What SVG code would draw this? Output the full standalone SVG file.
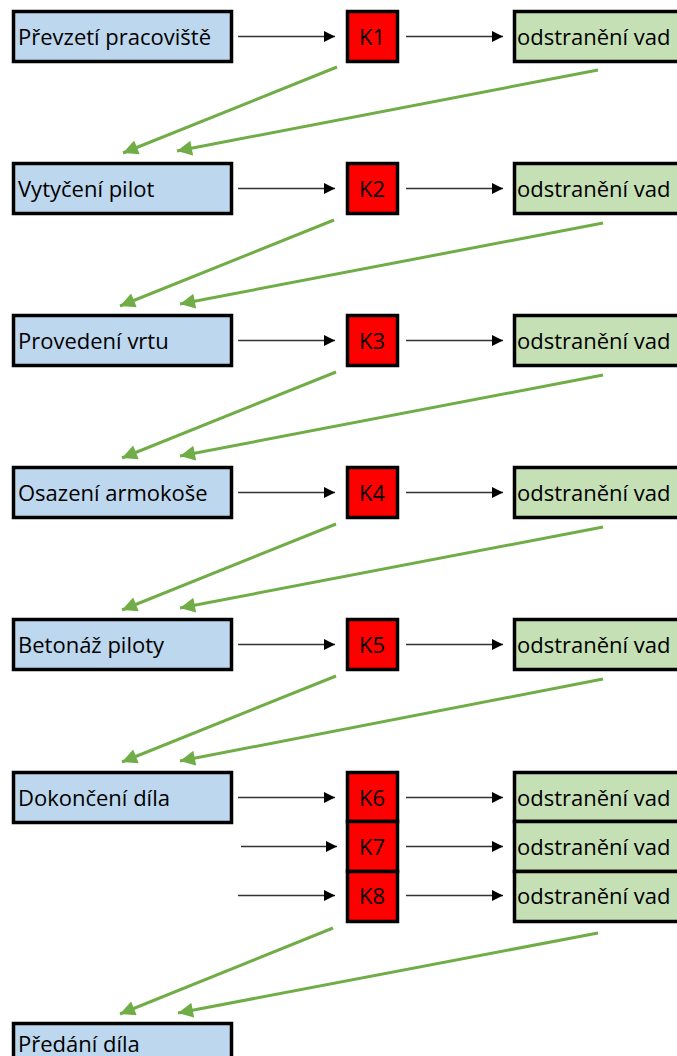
<svg xmlns="http://www.w3.org/2000/svg" width="677" height="1056" viewBox="0 0 677 1056">
<defs>
<marker id="ab" viewBox="0 0 10 10" refX="10" refY="5" markerWidth="11" markerHeight="11" markerUnits="userSpaceOnUse" orient="auto"><path d="M0,0 L10,5 L0,10 z" fill="#000"/></marker>
<marker id="ag" viewBox="0 0 10 10" refX="10" refY="5" markerWidth="16" markerHeight="15" markerUnits="userSpaceOnUse" orient="auto"><path d="M0,0 L10,5 L0,10 z" fill="#70AD47"/></marker>
<style>
.b{fill:#BDD7EE;stroke:#000;stroke-width:3.5}
.r{fill:#FF0000;stroke:#000;stroke-width:3.5}
.g{fill:#C5E0B4;stroke:#000;stroke-width:3.5}
text{font-family:"Open Sans","Liberation Sans",sans-serif;font-size:22px;fill:#000}
.c{text-anchor:middle}
.k{stroke:#333;stroke-width:1.5;fill:none;marker-end:url(#ab)}
.gr{stroke:#70AD47;stroke-width:3;fill:none;marker-end:url(#ag)}
</style>
</defs>
<g id="n1"><rect class="b" x="13.5" y="11.5" width="218" height="50"/><text x="18" y="44.5">Převzetí pracoviště</text></g>
<g id="k1"><rect class="r" x="347.5" y="11.5" width="50" height="50"/><text class="c" x="372" y="44.5">K1</text></g>
<g id="o1"><rect class="g" x="514.5" y="11.5" width="180" height="50"/><text x="517" y="44.5">odstranění vad</text></g>

<g id="n2"><rect class="b" x="13.5" y="163.5" width="218" height="50"/><text x="18" y="196.5">Vytyčení pilot</text></g>
<g id="k2"><rect class="r" x="347.5" y="163.5" width="50" height="50"/><text class="c" x="372" y="196.5">K2</text></g>
<g id="o2"><rect class="g" x="514.5" y="163.5" width="180" height="50"/><text x="517" y="196.5">odstranění vad</text></g>

<g id="n3"><rect class="b" x="13.5" y="315.5" width="218" height="50"/><text x="18" y="348.5">Provedení vrtu</text></g>
<g id="k3"><rect class="r" x="347.5" y="315.5" width="50" height="50"/><text class="c" x="372" y="348.5">K3</text></g>
<g id="o3"><rect class="g" x="514.5" y="315.5" width="180" height="50"/><text x="517" y="348.5">odstranění vad</text></g>

<g id="n4"><rect class="b" x="13.5" y="467.5" width="218" height="50"/><text x="18" y="500.5">Osazení armokoše</text></g>
<g id="k4"><rect class="r" x="347.5" y="467.5" width="50" height="50"/><text class="c" x="372" y="500.5">K4</text></g>
<g id="o4"><rect class="g" x="514.5" y="467.5" width="180" height="50"/><text x="517" y="500.5">odstranění vad</text></g>

<g id="n5"><rect class="b" x="13.5" y="619.5" width="218" height="50"/><text x="18" y="652.5">Betonáž piloty</text></g>
<g id="k5"><rect class="r" x="347.5" y="619.5" width="50" height="50"/><text class="c" x="372" y="652.5">K5</text></g>
<g id="o5"><rect class="g" x="514.5" y="619.5" width="180" height="50"/><text x="517" y="652.5">odstranění vad</text></g>

<g id="n6"><rect class="b" x="13.5" y="772.5" width="218" height="50"/><text x="18" y="805.5">Dokončení díla</text></g>
<g id="k6"><rect class="r" x="347.5" y="772.5" width="50" height="49"/><text class="c" x="372" y="805.5">K6</text></g>
<g id="o6"><rect class="g" x="514.5" y="772.5" width="180" height="49"/><text x="517" y="805.5">odstranění vad</text></g>
<g id="k7"><rect class="r" x="347.5" y="821.5" width="50" height="50"/><text class="c" x="372" y="854.5">K7</text></g>
<g id="o7"><rect class="g" x="514.5" y="821.5" width="180" height="50"/><text x="517" y="854.5">odstranění vad</text></g>
<g id="k8"><rect class="r" x="347.5" y="871.5" width="50" height="50"/><text class="c" x="372" y="903.5">K8</text></g>
<g id="o8"><rect class="g" x="514.5" y="871.5" width="180" height="50"/><text x="517" y="903.5">odstranění vad</text></g>

<g id="n7"><rect class="b" x="13.5" y="1023.5" width="218" height="50"/><text x="18" y="1051.5">Předání díla</text></g>

<g id="connectors">
<path class="k" d="M238,36.5 H335"/><path class="k" d="M406,36.5 H503"/>
<path class="k" d="M238,188.5 H335"/><path class="k" d="M406,188.5 H503"/>
<path class="k" d="M238,340.5 H335"/><path class="k" d="M406,340.5 H503"/>
<path class="k" d="M238,492.5 H335"/><path class="k" d="M406,492.5 H503"/>
<path class="k" d="M238,644.5 H335"/><path class="k" d="M406,644.5 H503"/>
<path class="k" d="M238,797.5 H335"/><path class="k" d="M406,797.5 H503"/>
<path class="k" d="M241,846.5 H337"/><path class="k" d="M406,846.5 H503"/>
<path class="k" d="M238,895.5 H335"/><path class="k" d="M406,895.5 H503"/>

<path class="gr" d="M337,67 L123,153"/><path class="gr" d="M598,70 L177,151"/>
<path class="gr" d="M334,220 L120,306"/><path class="gr" d="M603,223 L180,304"/>
<path class="gr" d="M336,372 L122,458"/><path class="gr" d="M603,375 L180,456"/>
<path class="gr" d="M336,524 L122,610"/><path class="gr" d="M603,527 L180,608"/>
<path class="gr" d="M336,676 L122,762"/><path class="gr" d="M603,679 L180,761"/>
<path class="gr" d="M333,928 L120,1014"/><path class="gr" d="M598,933 L178,1013"/>
</g>
</svg>
